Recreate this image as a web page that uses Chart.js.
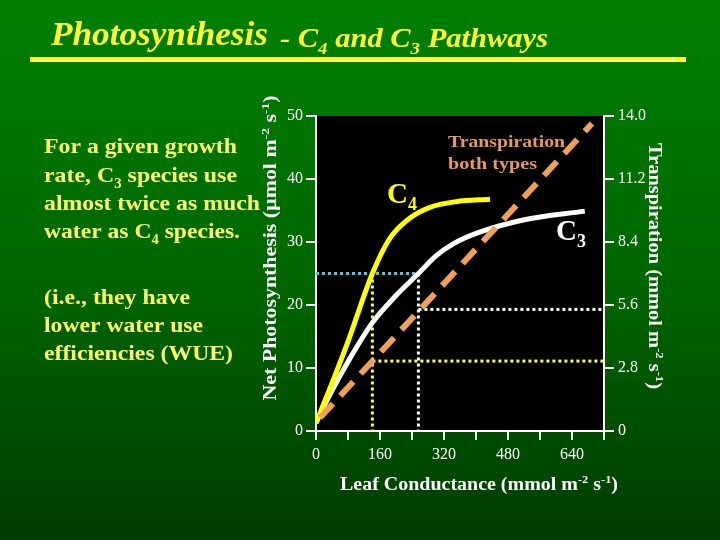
<!DOCTYPE html>
<html>
<head>
<meta charset="utf-8">
<script src="https://cdn.jsdelivr.net/npm/chart.js@4"></script>
<style>
  html, body { margin: 0; padding: 0; }
  body { width: 720px; height: 540px; background: linear-gradient(to bottom, #008000 0%, #006400 55%, #003c00 100%); }
  #wrap { position: relative; width: 720px; height: 540px; }
</style>
</head>
<body>
<div id="wrap"><canvas id="chart" width="720" height="540"></canvas></div>
<script>
// leaf conductance (x) vs net photosynthesis (y)
var c4Cond = [0, 40, 80, 141, 185, 235, 285, 350, 435];
var c4Photo = [1.3, 7.6, 14.2, 25, 30.6, 33.8, 35.5, 36.4, 36.8];
var c3Cond = [0, 40, 80, 141, 200, 256, 300, 343, 402, 518, 672];
var c3Photo = [1.3, 6.4, 11, 17.2, 21.5, 25, 27.8, 29.7, 31.4, 33.5, 34.9];
var transCond = [10, 690];
var transVal = [2.1, 48.8];
var guideCond = [141, 256];      // C4, C3 at same photosynthesis
var guidePhoto = 25;
var guideTrans = [11.1, 19.3];
var xTicks = [0, 160, 320, 480, 640];
var rightTicks = [0, 2.8, 5.6, 8.4, 11.2, 14.0];
var rightTickLabels = ['0', '2.8', '5.6', '8.4', '11.2', '14.0'];

function pts(xs, ys) { return xs.map(function (x, i) { return {x: x, y: ys[i]}; }); }

var serif = '"Liberation Serif", "Times New Roman", serif';

function fontFor(o, sub) {
  var s = sub ? o.size * 0.62 : o.size;
  return (o.style || 'normal') + ' ' + (o.weight || 'normal') + ' ' + s + 'px ' + serif;
}
// parts: [text, ''|'sub'|'sup'];  o.width stretches the run to a given width
function drawRich(ctx, parts, x, y, o) {
  var nat = 0;
  ctx.save();
  parts.forEach(function (p) {
    ctx.font = fontFor(o, p[1]);
    nat += ctx.measureText(p[0]).width;
  });
  var sx = o.width ? o.width / nat : 1;
  var w = nat * sx;
  if (o.align === 'center') x -= w / 2;
  ctx.translate(x, y);
  ctx.scale(sx, 1);
  ctx.fillStyle = o.color;
  ctx.textBaseline = 'alphabetic';
  ctx.textAlign = 'left';
  var cx = 0;
  parts.forEach(function (p) {
    var dy = p[1] === 'sub' ? o.size * 0.25 : (p[1] === 'sup' ? -o.size * 0.38 : 0);
    ctx.font = fontFor(o, p[1]);
    ctx.fillText(p[0], cx, dy);
    cx += ctx.measureText(p[0]).width;
  });
  ctx.restore();
}

var decor = {
  id: 'decor',
  beforeDraw: function (chart) {
    var ctx = chart.ctx, a = chart.chartArea;
    ctx.save();
    ctx.fillStyle = '#000';
    ctx.fillRect(a.left, a.top, a.right - a.left, a.bottom - a.top);
    ctx.restore();
  },
  afterDraw: function (chart) {
    var ctx = chart.ctx;
    // title
    var ty = {weight: 'bold', style: 'italic', color: '#ffff33'};
    drawRich(ctx, [['Photosynthesis', '']], 51, 45, Object.assign({size: 33, width: 217}, ty));
    drawRich(ctx, [['- C', ''], ['4', 'sub'], [' and C', ''], ['3', 'sub'], [' Pathways', '']], 280, 47, Object.assign({size: 28, width: 268}, ty));
    ctx.fillStyle = '#ffff33';
    ctx.fillRect(30, 57, 656, 5);

    // side text
    var side = {size: 22, weight: 'bold', color: '#ffff66'};
    drawRich(ctx, [['For a given growth', '']], 44, 153, Object.assign({width: 193}, side));
    drawRich(ctx, [['rate, C', ''], ['3', 'sub'], [' species use', '']], 44, 182, Object.assign({width: 193}, side));
    drawRich(ctx, [['almost twice as much', '']], 44, 210, Object.assign({width: 216}, side));
    drawRich(ctx, [['water as C', ''], ['4', 'sub'], [' species.', '']], 44, 238, Object.assign({width: 196}, side));
    drawRich(ctx, [['(i.e., they have', '']], 44, 304, Object.assign({width: 146}, side));
    drawRich(ctx, [['lower water use', '']], 44, 332, Object.assign({width: 159}, side));
    drawRich(ctx, [['efficiencies (WUE)', '']], 44, 360, Object.assign({width: 189}, side));

    // in-plot labels
    drawRich(ctx, [['C', ''], ['4', 'sub']], 387, 203, {size: 29, weight: 'bold', color: '#ffff00'});
    drawRich(ctx, [['C', ''], ['3', 'sub']], 556, 240, {size: 29, weight: 'bold', color: '#ffffff'});
    drawRich(ctx, [['Transpiration', '']], 448, 147, {size: 17, weight: 'bold', color: '#e89858', width: 117});
    drawRich(ctx, [['both types', '']], 448, 169, {size: 17, weight: 'bold', color: '#e89858', width: 89});

    // axis titles
    var ax = {size: 18, weight: 'bold', color: '#ffffff', align: 'center'};
    var unitsL = [['Net Photosynthesis (\u00b5mol m', ''], ['-2', 'sup'], [' s', ''], ['-1', 'sup'], [')', '']];
    ctx.save();
    ctx.translate(276, 248);
    ctx.rotate(-Math.PI / 2);
    drawRich(ctx, unitsL, 0, 0, Object.assign({width: 305}, ax));
    ctx.restore();

    var unitsR = [['Transpiration (mmol m', ''], ['-2', 'sup'], [' s', ''], ['-1', 'sup'], [')', '']];
    ctx.save();
    ctx.translate(649, 266);
    ctx.rotate(Math.PI / 2);
    drawRich(ctx, unitsR, 0, 0, Object.assign({width: 246}, ax));
    ctx.restore();

    drawRich(ctx, [['Leaf Conductance (mmol m', ''], ['-2', 'sup'], [' s', ''], ['-1', 'sup'], [')', '']], 479, 490, Object.assign({width: 278}, ax));
  }
};

var dotted = {borderWidth: 3, borderDash: [3, 3], pointRadius: 0, tension: 0, fill: false};

new Chart(document.getElementById('chart'), {
  type: 'line',
  data: {
    datasets: [
      {data: pts(transCond, transVal), borderColor: '#f0a058', borderWidth: 6, borderDash: [19, 11], pointRadius: 0, tension: 0},
      {data: pts(c4Cond, c4Photo), borderColor: '#ffff00', borderWidth: 5, pointRadius: 0, cubicInterpolationMode: 'monotone'},
      {data: pts(c3Cond, c3Photo), borderColor: '#ffffff', borderWidth: 5, pointRadius: 0, cubicInterpolationMode: 'monotone'},
      Object.assign({data: [{x: 0, y: guidePhoto}, {x: guideCond[1], y: guidePhoto}], borderColor: '#50c8e0'}, dotted),
      Object.assign({data: [{x: guideCond[0], y: guidePhoto}, {x: guideCond[0], y: 0}], borderColor: '#ffff40'}, dotted),
      Object.assign({data: [{x: guideCond[1], y: guidePhoto}, {x: guideCond[1], y: 0}], borderColor: '#ffffff'}, dotted),
      Object.assign({data: [{x: guideCond[0], y: guideTrans[0]}, {x: 720, y: guideTrans[0]}], borderColor: '#ffff40'}, dotted),
      Object.assign({data: [{x: guideCond[1], y: guideTrans[1]}, {x: 720, y: guideTrans[1]}], borderColor: '#ffffff'}, dotted)
    ]
  },
  options: {
    responsive: false,
    animation: false,
    layout: {padding: {top: 116, left: 0, right: 0, bottom: 0}},
    plugins: {legend: {display: false}, tooltip: {enabled: false}},
    scales: {
      x: {
        type: 'linear', min: 0, max: 720,
        afterFit: function (s) { s.height = 109; },
        afterBuildTicks: function (s) {
          var t = [];
          for (var v = 0; v <= 720; v += 80) t.push({value: v});
          s.ticks = t;
        },
        ticks: {
          color: '#ffffff', font: {family: serif, size: 16}, padding: 5, autoSkip: false, maxRotation: 0,
          callback: function (v) { return xTicks.indexOf(v) >= 0 ? String(v) : ''; }
        },
        grid: {drawOnChartArea: false, color: '#ffffff', lineWidth: 2, tickLength: 9},
        border: {display: true, color: '#ffffff', width: 2}
      },
      y: {
        min: 0, max: 50, position: 'left',
        afterFit: function (s) { s.width = 316; },
        ticks: {stepSize: 10, color: '#ffffff', font: {family: serif, size: 16}, padding: 3},
        grid: {drawOnChartArea: false, color: '#ffffff', lineWidth: 2, tickLength: 10},
        border: {display: true, color: '#ffffff', width: 2}
      },
      y2: {
        min: 0, max: 14, position: 'right',
        afterFit: function (s) { s.width = 116; },
        afterBuildTicks: function (s) { s.ticks = rightTicks.map(function (v) { return {value: v}; }); },
        ticks: {
          color: '#ffffff', font: {family: serif, size: 16}, padding: 4,
          callback: function (v, i) { return rightTickLabels[i]; }
        },
        grid: {drawOnChartArea: false, color: '#ffffff', lineWidth: 2, tickLength: 10},
        border: {display: true, color: '#ffffff', width: 2}
      }
    }
  },
  plugins: [decor]
});
</script>
</body>
</html>
